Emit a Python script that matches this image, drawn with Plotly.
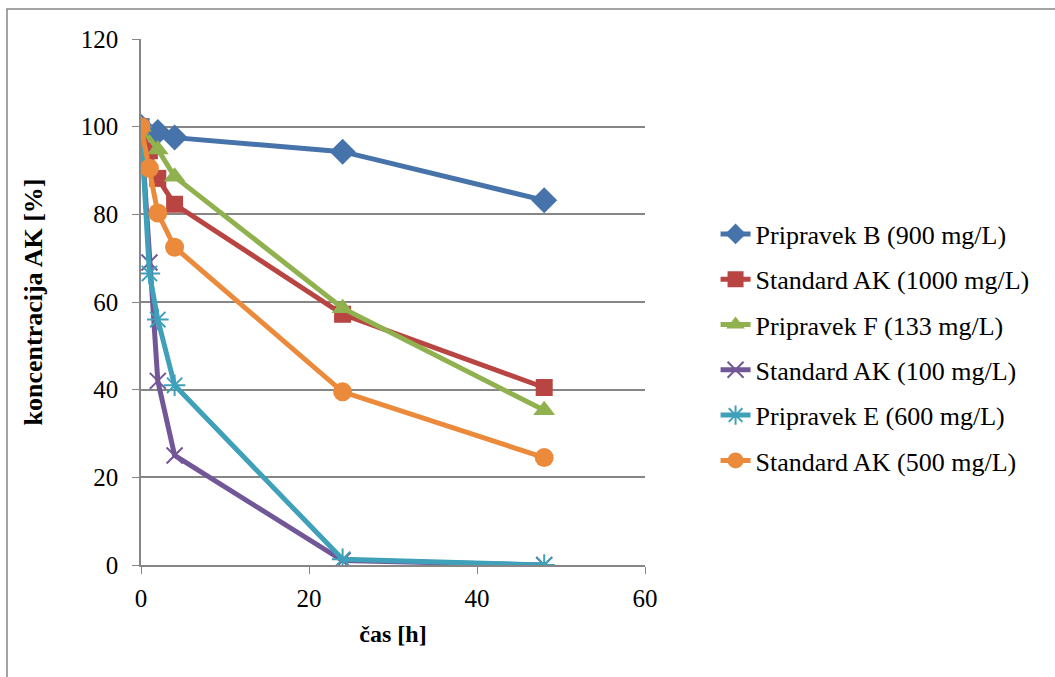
import plotly.graph_objects as go

# Sampling times [h]
time_h = [0, 1, 2, 4, 24, 48]
time_h_f = [0, 2, 4, 24, 48]
time_h_b = [0, 2, 4, 24, 48]

# Concentration of AK [%]
pripravek_b = [100, 98.8, 97.5, 94.3, 83.2]
standard_1000 = [100, 94.5, 88.2, 82.3, 57.2, 40.5]
pripravek_f = [100, 94.8, 88.6, 58.6, 35.3]
standard_100 = [100, 69.0, 42.0, 25.0, 1.0, 0.0]
pripravek_e = [100, 66.5, 56.0, 41.0, 1.3, 0.0]
standard_500 = [100, 90.5, 80.3, 72.5, 39.5, 24.5]

series = [
    ("Pripravek B (900 mg/L)", time_h_b, pripravek_b, "#4673AA", "diamond", 20),
    ("Standard AK (1000 mg/L)", time_h, standard_1000, "#B94542", "square", 17),
    ("Pripravek F (133 mg/L)", time_h_f, pripravek_f, "#8FB14E", "triangle-up", 19),
    ("Standard AK (100 mg/L)", time_h, standard_100, "#725798", "x-thin", 16),
    ("Pripravek E (600 mg/L)", time_h, pripravek_e, "#3FA0BA", "asterisk", 18),
    ("Standard AK (500 mg/L)", time_h, standard_500, "#EC8A3C", "circle", 19),
]

fig = go.Figure()
for i, (name, xs, ys, color, symbol, size) in enumerate(series):
    thin = symbol in ("x-thin", "asterisk")
    fig.add_trace(go.Scatter(
        x=xs, y=ys, name=name, mode="lines+markers",
        legendgroup=f"g{i}",
        line=dict(color=color, width=5),
        marker=dict(symbol=symbol, size=size, color=color,
                    line=dict(color=color, width=2 if thin else 0)),
    ))

font = "Liberation Serif, Times New Roman, serif"
fig.update_layout(
    width=1055, height=677,
    margin=dict(l=141, r=410, t=39, b=112),
    paper_bgcolor="white", plot_bgcolor="white",
    font=dict(family=font, size=25, color="black"),
    showlegend=True,
    legend=dict(x=1.14, y=0.674, xanchor="left", yanchor="top",
                font=dict(family=font, size=26, color="black"),
                tracegroupgap=8.5, bgcolor="rgba(0,0,0,0)"),
    xaxis=dict(range=[0, 60], tickvals=[0, 20, 40, 60], showgrid=False,
               zeroline=False, showline=True, linecolor="#868686", linewidth=1.5,
               ticks="outside", ticklen=7, tickcolor="#868686",
               ticklabelstandoff=3,
               tickfont=dict(family=font, size=25),
               title=dict(text="<b>čas [h]</b>", font=dict(family=font, size=24), standoff=14)),
    yaxis=dict(range=[0, 120], tickvals=[0, 20, 40, 60, 80, 100, 120], showgrid=True,
               gridcolor="#868686", gridwidth=1.5, zeroline=False,
               showline=True, linecolor="#868686", linewidth=1.5,
               ticks="outside", ticklen=7, tickcolor="#868686",
               ticklabelstandoff=9,
               tickfont=dict(family=font, size=25),
               title=dict(text="<b>koncentracija AK [%]</b>", font=dict(family=font, size=26), standoff=31)),
    shapes=[dict(type="rect", xref="paper", yref="paper",
                 x0=(7 - 141) / 504, x1=(1060 - 141) / 504,
                 y0=(565 - 685) / 526, y1=(565 - 9) / 526,
                 line=dict(color="#868686", width=1.5), layer="below")],
)

fig.write_html("out.html")
